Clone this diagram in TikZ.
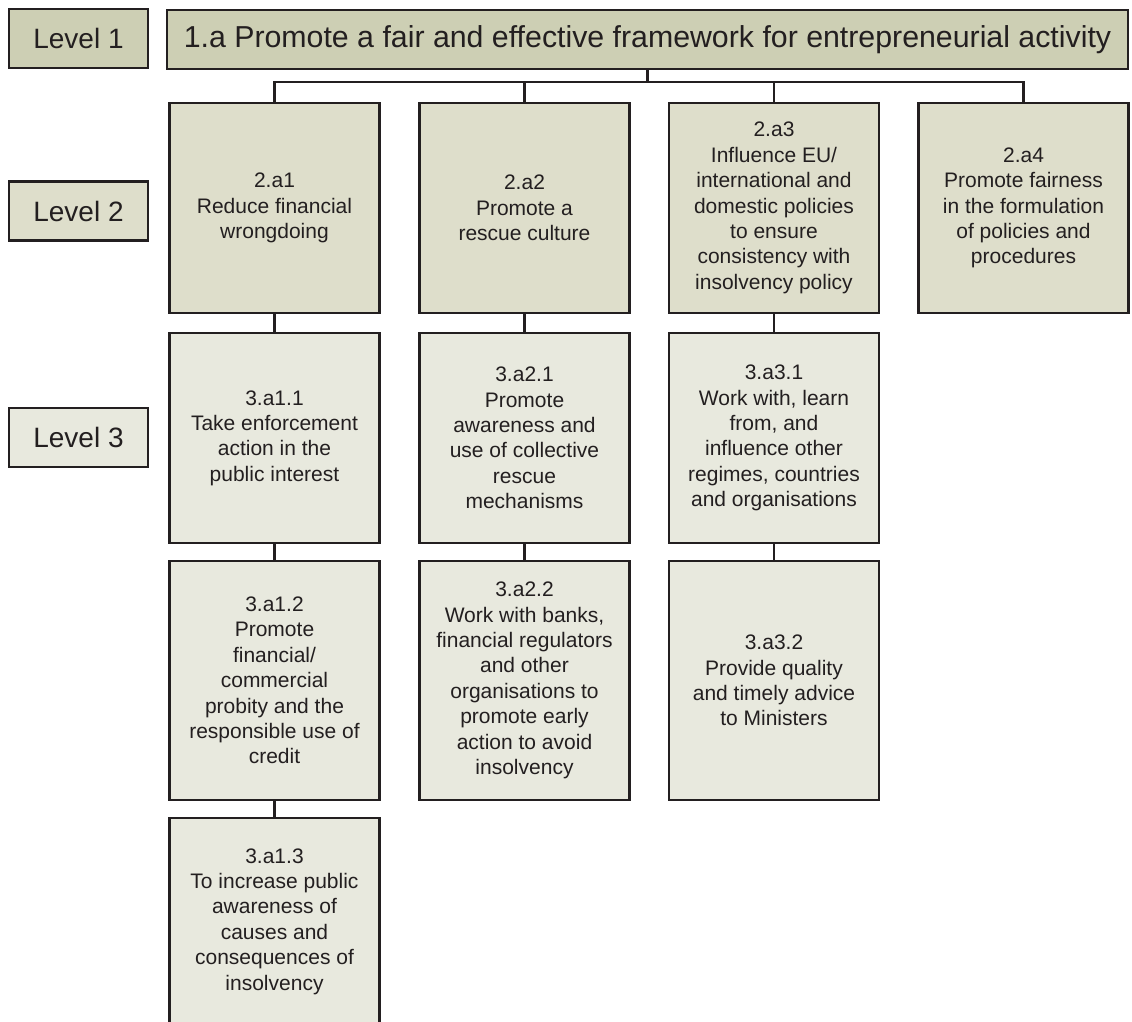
\documentclass[tikz,border=0pt]{standalone}
\usepackage{fontspec}
\setmainfont{Liberation Sans}
\begin{document}
\definecolor{ink}{HTML}{231F20}
\definecolor{lvA}{HTML}{CDCFB4}
\definecolor{lvB}{HTML}{DEDECB}
\definecolor{lvC}{HTML}{E8E9DE}
\begin{tikzpicture}[x=1pt,y=-1pt,
  every node/.style={inner sep=0pt, outer sep=0pt, text=ink},
  box/.style={draw=ink, line width=2.5pt, rectangle, align=center,
    font=\fontsize{21}{25.4}\selectfont},
  lab/.style={box, minimum width=139pt, minimum height=59pt,
    font=\fontsize{28}{32}\selectfont},
  boxA/.style={box, fill=lvA},
  boxB/.style={box, fill=lvB, minimum width=210pt, minimum height=210pt},
  boxC/.style={box, fill=lvC, minimum width=210pt},
  link/.style={draw=ink, line width=2.5pt}
]
\useasboundingbox (0,0) rectangle (1132,1021);
\clip (0,0) rectangle (1132,1021);

% level labels
\node[lab, fill=lvA] (l1) at (78.5,38.5) {Level 1};
\node[lab, fill=lvB] (l2) at (78.5,211) {Level 2};
\node[lab, fill=lvC] (l3) at (78.5,437.5) {Level 3};

% level 1 goal
\node[boxA, minimum width=961pt, minimum height=59pt,
  font=\fontsize{30.3}{34}\selectfont] (top) at (647.5,39.5)
  {1.a Promote a fair and effective framework for entrepreneurial activity};

% level 2 objectives
\node[boxB] (a1) at (274.5,208) {2.a1\\Reduce financial\\wrongdoing};
\node[boxB] (a2) at (524.5,208) {2.a2\\Promote a\\rescue culture};
\node[boxB] (a3) at (774,208) {2.a3\\Influence EU/\\international and\\domestic policies\\to ensure\\consistency with\\insolvency policy};
\node[boxB] (a4) at (1023.5,208) {2.a4\\Promote fairness\\in the formulation\\of policies and\\procedures};

% level 3, first row
\node[boxC, minimum height=210pt] (b11) at (274.5,438) {3.a1.1\\Take enforcement\\action in the\\public interest};
\node[boxC, minimum height=210pt] (b21) at (524.5,438) {3.a2.1\\Promote\\awareness and\\use of collective\\rescue\\mechanisms};
\node[boxC, minimum height=210pt] (b31) at (774,438) {3.a3.1\\Work with, learn\\from, and\\influence other\\regimes, countries\\and organisations};

% level 3, second row
\node[boxC, minimum height=239pt] (b12) at (274.5,680.5) {3.a1.2\\Promote\\financial/\\commercial\\probity and the\\responsible use of\\credit};
\node[boxC, minimum height=239pt] (b22) at (524.5,680.5) {3.a2.2\\Work with banks,\\financial regulators\\and other\\organisations to\\promote early\\action to avoid\\insolvency};
\node[boxC, minimum height=239pt] (b32) at (774,680.5) {3.a3.2\\Provide quality\\and timely advice\\to Ministers};

% level 3, third row
\node[boxC, minimum height=207pt] (b13) at (274.5,921.5) {3.a1.3\\To increase public\\awareness of\\causes and\\consequences of\\insolvency};

% connectors
\coordinate (bus) at (0,82);
\draw[link] (top.south) -- (top.south |- bus);
\draw[link] (a1.north) -- (a1.north |- bus) -- (a4.north |- bus) -- (a4.north);
\draw[link] (a2.north) -- (a2.north |- bus);
\draw[link] (a3.north) -- (a3.north |- bus);
\draw[link] (a1) -- (b11);
\draw[link] (b11) -- (b12);
\draw[link] (b12) -- (b13);
\draw[link] (a2) -- (b21);
\draw[link] (b21) -- (b22);
\draw[link] (a3) -- (b31);
\draw[link] (b31) -- (b32);
\end{tikzpicture}
\end{document}
